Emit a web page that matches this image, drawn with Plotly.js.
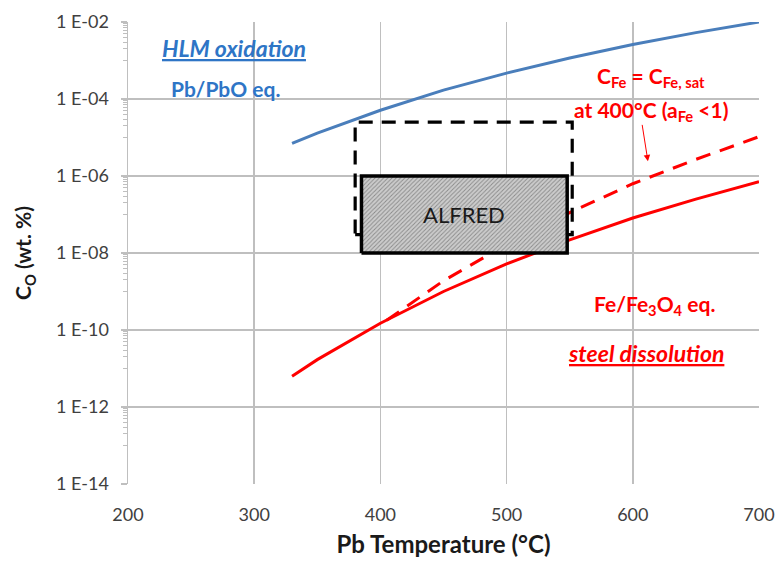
<!DOCTYPE html>
<html>
<head>
<meta charset="utf-8">
<script src="https://cdn.plot.ly/plotly-3.0.1.min.js"></script>
<style>html,body{margin:0;padding:0;background:#fff;}#chart{width:778px;height:562px;}</style>
</head>
<body>
<div id="chart"></div>
<script>
// Pb/PbO equilibrium (HLM oxidation)
const tempPbO = [330, 350, 400, 450, 500, 550, 600, 650, 700];
const coPbO   = [7.0e-6, 1.3e-5, 5.1e-5, 1.7e-4, 4.7e-4, 1.16e-3, 2.6e-3, 5.3e-3, 1.0e-2];
// Fe/Fe3O4 equilibrium (steel dissolution)
const tempFe3O4 = [330, 350, 400, 450, 500, 550, 600, 650, 700];
const coFe3O4   = [6.3e-12, 1.7e-11, 1.5e-10, 1.0e-9, 5.2e-9, 2.2e-8, 8.1e-8, 2.5e-7, 7.1e-7];
// C_Fe = C_Fe,sat at 400°C
const tempSat = [405, 450, 500, 550, 600, 650, 700];
const coSat   = [1.8e-10, 1.9e-9, 1.66e-8, 1.12e-7, 6.3e-7, 2.7e-6, 1.05e-5];
// Dashed operating window
const windowT = [380, 552];
const windowC = [3.0e-8, 2.5e-5];
// ALFRED box
const alfredT = [385, 548];
const alfredC = [1.0e-8, 1.0e-6];
// Tick labels
const xTicks = [200, 300, 400, 500, 600, 700];
const yTickVals = [1e-14, 1e-12, 1e-10, 1e-8, 1e-6, 1e-4, 1e-2];
const yTickText = ['1 E-14', '1 E-12', '1 E-10', '1 E-08', '1 E-06', '1 E-04', '1 E-02'];

const FONT = 'Lato, Carlito, Calibri, "Open Sans", sans-serif';
const BLUE_LINE = '#4A7EBB';
const BLUE_TXT = '#2E75C6';
const RED = '#FF0000';

function rectPath(xs, ys) {
  return {
    x: [xs[0], xs[1], xs[1], xs[0], xs[0]],
    y: [ys[0], ys[0], ys[1], ys[1], ys[0]]
  };
}

const win = rectPath(windowT, windowC);
const box = rectPath(alfredT, alfredC);

// minor ticks: only first decade below each labelled tick (Excel style)
const minorVals = [];
for (let e = -13; e <= -3; e += 2) {
  for (let k = 1; k <= 9; k++) minorVals.push(k * Math.pow(10, e));
}

const traces = [
  {x: tempFe3O4, y: coFe3O4, mode: 'lines', line: {color: RED, width: 3}},
  {x: tempSat, y: coSat, mode: 'lines', line: {color: RED, width: 3, dash: '15px,10px'}},
  {x: win.x, y: win.y, mode: 'lines', line: {color: '#000', width: 3.2, dash: '14px,9px'}, hoverinfo: 'skip'},
  {x: box.x, y: box.y, mode: 'lines', fill: 'toself', fillcolor: '#c0c0c0',
   fillpattern: {shape: '/', bgcolor: '#cccccc', fgcolor: '#8a8a8a', size: 3, solidity: 0.3},
   line: {color: '#000', width: 3.5}, hoverinfo: 'skip'},
  {x: tempPbO, y: coPbO, mode: 'lines', line: {color: BLUE_LINE, width: 3}}
];

function note(x, y, text, size, color) {
  return {xref: 'paper', yref: 'paper', x: x, y: y, xanchor: 'center', yanchor: 'middle',
          text: text, showarrow: false, font: {size: size, color: color}};
}

const layout = {
  width: 778, height: 562,
  margin: {l: 128, r: 19, t: 22, b: 78},
  paper_bgcolor: '#fff', plot_bgcolor: '#fff',
  showlegend: false,
  font: {family: FONT, color: '#404040', size: 18},
  xaxis: {
    range: [200, 700], tickmode: 'array', tickvals: xTicks,
    ticktext: xTicks.map(String),
    showgrid: true, gridcolor: '#bfbfbf', gridwidth: 1.5,
    showline: false, zeroline: false, ticks: '', ticklabelstandoff: 18,
    tickfont: {size: 18, color: '#404040'},
    title: {text: '<b>Pb Temperature (°C)</b>', font: {size: 24, color: '#1a1a1a'}, standoff: 12}
  },
  yaxis: {
    type: 'log', range: [-14, -2], tickmode: 'array', tickvals: yTickVals, ticktext: yTickText,
    showgrid: true, gridcolor: '#bfbfbf', gridwidth: 1.5,
    showline: true, linecolor: '#bfbfbf', linewidth: 1.5, zeroline: false,
    ticks: 'outside', ticklen: 6, tickcolor: '#bfbfbf', tickwidth: 1.5,
    ticklabelstandoff: 8,
    tickfont: {size: 18, color: '#404040'},
    minor: {tickmode: 'array', tickvals: minorVals, ticks: 'outside', ticklen: 4, tickcolor: '#bfbfbf', tickwidth: 1, showgrid: false},
    title: {text: '<b>C<sub>O</sub> (wt. %)</b>', font: {size: 21, color: '#1a1a1a'}, standoff: 18}
  },
  annotations: [
    note(0.168, 0.944, '<b><i><u>HLM oxidation</u></i></b>', 23, BLUE_TXT),
    note(0.155, 0.857, '<b>Pb/PbO eq.</b>', 21, BLUE_TXT),
    note(0.829, 0.881, '<b>C<sub>Fe</sub> = C<sub>Fe, sat</sub></b>', 21, RED),
    note(0.829, 0.808, '<b>at 400°C (a<sub>Fe</sub> <1)</b>', 21, RED),
    {xref: 'x', yref: 'y', x: 612, y: Math.log10(2.4e-6), ax: -6, ay: -38, text: '', showarrow: true, arrowhead: 2, arrowsize: 1.3, arrowwidth: 1, arrowcolor: RED},
    note(0.834, 0.387, '<b>Fe/Fe<sub>3</sub>O<sub>4</sub> eq.</b>', 21, RED),
    note(0.821, 0.284, '<b><i><u>steel dissolution</u></i></b>', 23, RED),
    {xref: 'x', yref: 'y', x: (alfredT[0] + alfredT[1]) / 2, y: -7, xanchor: 'center', yanchor: 'middle', text: 'ALFRED', showarrow: false, font: {size: 22, color: '#1a1a1a'}}
  ]
};

Plotly.newPlot('chart', traces, layout, {displayModeBar: false, staticPlot: true});
</script>
</body>
</html>
